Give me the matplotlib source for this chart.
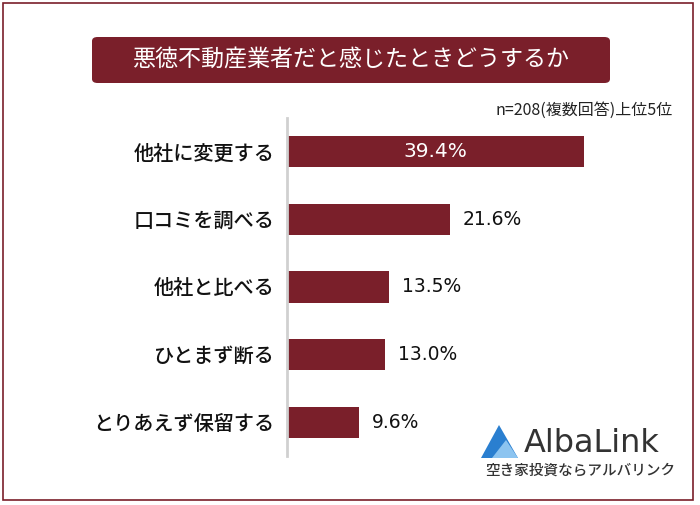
import matplotlib.pyplot as plt
from matplotlib.patches import FancyBboxPatch, Rectangle, Polygon

plt.rcParams['font.family'] = ['Noto Sans CJK JP', 'DejaVu Sans']

categories = ['他社に変更する', '口コミを調べる', '他社と比べる', 'ひとまず断る', 'とりあえず保留する']
values = [39.4, 21.6, 13.5, 13.0, 9.6]
title = '悪徳不動産業者だと感じたときどうするか'
note = 'n=208(複数回答)上位5位'

bar_color = '#7a1f2a'
W, H = 700, 505

fig = plt.figure(figsize=(W / 100, H / 100), dpi=100)

def fx(px):
    return px / W

def fy(py):
    return 1 - py / H

# outer border
fig.patches.append(Rectangle((fx(3), fy(500)), fx(690), 497 / H, transform=fig.transFigure,
                             fill=False, edgecolor=bar_color, linewidth=1.2))

# title box
fig.patches.append(FancyBboxPatch((fx(92), fy(83)), fx(518), 46 / H, transform=fig.transFigure,
                                  boxstyle='round,pad=0,rounding_size=0.008',
                                  facecolor=bar_color, edgecolor='none'))
fig.text(fx(351), fy(60), title, color='white', fontsize=16.6, ha='center', va='center')
fig.text(fx(673), fy(110), note, color='#222222', fontsize=11.5, ha='right', va='center')

# axes: left edge at x=287, y from 118 to 456
ax = fig.add_axes([fx(287), fy(456), fx(377), 338 / H])
y = list(range(len(categories)))
ax.barh(y, values, height=0.46, color=bar_color)
ax.set_xlim(0, 50)
ax.set_ylim(len(categories) - 0.5, -0.5)
ax.set_yticks(y)
ax.set_yticklabels(categories, fontsize=14.5, color='#111111', weight='medium')
ax.tick_params(axis='y', length=0, pad=9)
ax.set_xticks([])
for s in ['top', 'right', 'bottom']:
    ax.spines[s].set_visible(False)
ax.spines['left'].set_color('#d0d0d0')
ax.spines['left'].set_linewidth(2)

for i, v in enumerate(values):
    lbl = f'{v:.1f}%'
    if i == 0:
        ax.text(v / 2, i, lbl, color='white', fontsize=14.5, ha='center', va='center',
                family='DejaVu Sans')
    else:
        ax.text(v + 1.7, i, lbl, color='#111111', fontsize=13.5, ha='left', va='center',
                family='DejaVu Sans')

# logo
fig.patches.append(Polygon([[fx(481), fy(458)], [fx(518), fy(458)], [fx(499), fy(425)]],
                           closed=True, transform=fig.transFigure,
                           facecolor='#2a7fd0', edgecolor='none'))
fig.patches.append(Polygon([[fx(492), fy(458)], [fx(518), fy(458)], [fx(506), fy(440)]],
                           closed=True, transform=fig.transFigure,
                           facecolor='#8cc4f0', edgecolor='none'))
fig.text(fx(524), fy(443), 'AlbaLink', color='#333333', fontsize=23, ha='left', va='center',
         family='DejaVu Sans')
fig.text(fx(580), fy(471), '空き家投資ならアルバリンク', color='#333333', fontsize=10.5,
         ha='center', va='center', weight='medium')

fig.savefig('out.png', dpi=100)
